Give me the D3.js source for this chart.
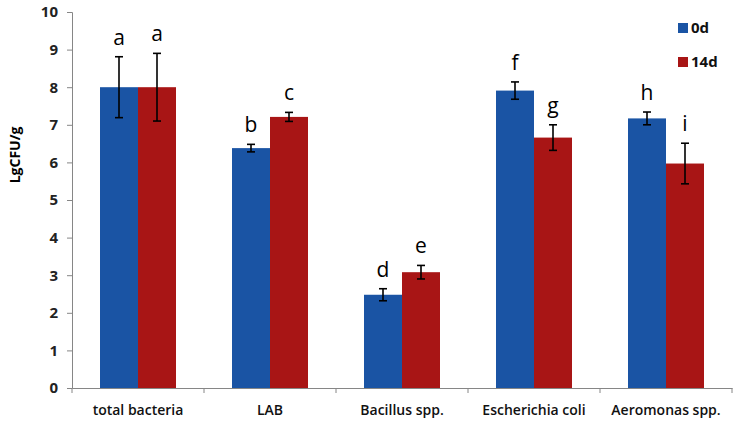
<!DOCTYPE html>
<html>
<head>
<meta charset="utf-8">
<script src="https://cdn.jsdelivr.net/npm/d3@7"></script>
<style>
  body { margin: 0; background: #fff; }
  svg { display: block; font-family: "Open Sans", "Liberation Sans", sans-serif; }
</style>
</head>
<body>
<svg id="chart" width="737" height="423"></svg>
<script>
// data
var categories = ["total bacteria", "LAB", "Bacillus spp.", "Escherichia coli", "Aeromonas spp."];
var seriesNames = ["0d", "14d"];
var day0 = [8.0, 6.38, 2.48, 7.91, 7.17];
var day0Err = [0.81, 0.1, 0.16, 0.23, 0.17];
var day14 = [8.0, 7.21, 3.08, 6.66, 5.97];
var day14Err = [0.9, 0.12, 0.18, 0.34, 0.54];
var day0Letters = ["a", "b", "d", "f", "h"];
var day14Letters = ["a", "c", "e", "g", "i"];
var yTicks = [0, 1, 2, 3, 4, 5, 6, 7, 8, 9, 10];
var colors = ["#1a54a4", "#a81515"];

var svg = d3.select("#chart");
// plot edges (top is a window global, so use other names)
var plotLeft = 72, plotRight = 732, plotTop = 12, plotBottom = 388;

var y = d3.scaleLinear().domain([0, 10]).range([plotBottom, plotTop]);
var x0 = d3.scaleBand().domain(categories).range([plotLeft, plotRight]).padding(0);
var x1 = d3.scaleBand().domain(seriesNames).range([28, 104]);

// build rows
var rows = [];
categories.forEach(function(c, i) {
  rows.push({cat: c, s: "0d", v: day0[i], e: day0Err[i], l: day0Letters[i]});
  rows.push({cat: c, s: "14d", v: day14[i], e: day14Err[i], l: day14Letters[i]});
});

// bars
svg.append("g").selectAll("rect")
  .data(rows)
  .enter()
  .append("rect")
  .attr("x", function(d) { return x0(d.cat) + x1(d.s); })
  .attr("width", x1.bandwidth())
  .attr("y", function(d) { return y(d.v); })
  .attr("height", function(d) { return y(0) - y(d.v); })
  .attr("fill", function(d) { return d.s === "0d" ? colors[0] : colors[1]; });

// error bars
var eb = svg.append("g").attr("stroke", "#000").attr("stroke-width", 1.6);
rows.forEach(function(d) {
  var cx = x0(d.cat) + x1(d.s) + x1.bandwidth() / 2;
  eb.append("line").attr("x1", cx).attr("x2", cx).attr("y1", y(d.v + d.e)).attr("y2", y(d.v - d.e));
  eb.append("line").attr("x1", cx - 4).attr("x2", cx + 4).attr("y1", y(d.v + d.e)).attr("y2", y(d.v + d.e));
  eb.append("line").attr("x1", cx - 4).attr("x2", cx + 4).attr("y1", y(d.v - d.e)).attr("y2", y(d.v - d.e));
});

// letters
svg.append("g").selectAll("text")
  .data(rows)
  .enter()
  .append("text")
  .attr("x", function(d) { return x0(d.cat) + x1(d.s) + x1.bandwidth() / 2; })
  .attr("y", function(d) { return y(d.v + d.e) - 12; })
  .attr("text-anchor", "middle")
  .attr("font-size", 21)
  .attr("fill", "#000")
  .text(function(d) { return d.l; });

// y axis
var yAxis = d3.axisLeft(y).tickValues(yTicks).tickSize(5).tickPadding(9).tickFormat(d3.format("d"));
var gy = svg.append("g").attr("transform", "translate(" + plotLeft + ",0)").call(yAxis);
gy.select(".domain").attr("stroke", "#868686");
gy.selectAll(".tick line").attr("stroke", "#868686");
gy.selectAll(".tick text").attr("font-size", 15).attr("font-weight", "bold").attr("fill", "#222")
  .attr("font-family", "Open Sans, sans-serif");

// x axis
var xAxis = d3.axisBottom(x0).tickSize(0).tickPadding(17);
var gx = svg.append("g").attr("transform", "translate(0," + plotBottom + ")").call(xAxis);
gx.select(".domain").attr("stroke", "#868686");
gx.selectAll(".tick text").attr("font-size", 14).attr("font-weight", 600).attr("fill", "#111")
  .attr("font-family", "Open Sans, sans-serif");
// category separators
gx.selectAll(".sep")
  .data(categories)
  .enter()
  .append("line")
  .attr("x1", function(c) { return x0(c); })
  .attr("x2", function(c) { return x0(c); })
  .attr("y1", 0).attr("y2", 5)
  .attr("stroke", "#868686");
gx.append("line").attr("x1", plotRight).attr("x2", plotRight).attr("y1", 0).attr("y2", 5).attr("stroke", "#868686");

// y label
svg.append("text")
  .attr("transform", "translate(20,155) rotate(-90)")
  .attr("text-anchor", "middle")
  .attr("font-size", 14)
  .attr("font-weight", "bold")
  .attr("fill", "#000")
  .text("LgCFU/g");

// legend
var lg = svg.append("g").attr("transform", "translate(678,23)");
seriesNames.forEach(function(s, i) {
  var g = lg.append("g").attr("transform", "translate(0," + (i * 34) + ")");
  g.append("rect").attr("width", 10).attr("height", 10).attr("fill", colors[i]);
  g.append("text").attr("x", 13).attr("y", 10).attr("font-size", 15).attr("font-weight", "bold")
    .attr("fill", "#111").text(s);
});
</script>
</body>
</html>
